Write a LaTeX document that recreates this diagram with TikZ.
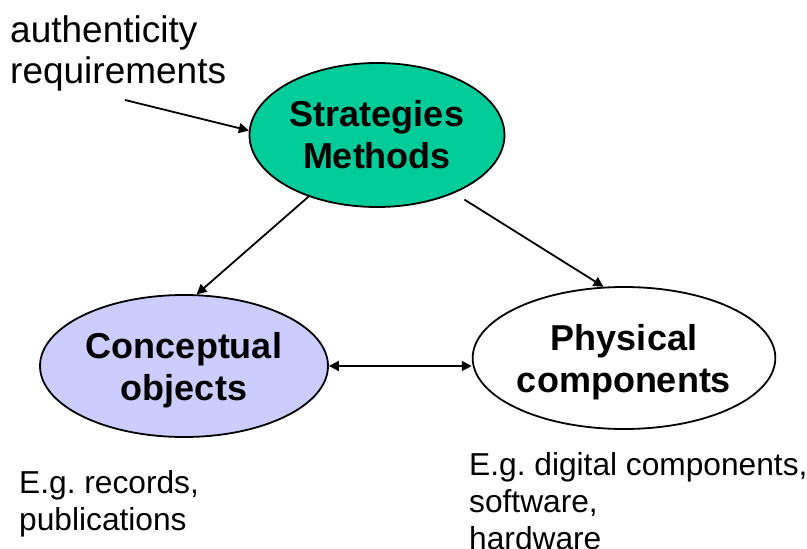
\documentclass[tikz,border=0pt]{standalone}
\usepackage{fontspec}
\setmainfont{Liberation Sans}
\frenchspacing
\usepackage{xcolor}
\definecolor{STRATCOLOR}{RGB}{0,204,153}
\definecolor{CONCEPTCOLOR}{RGB}{204,204,255}
\usetikzlibrary{shapes,arrows.meta,positioning}
\tikzset{
  ellipse-style/.style = {
    ellipse, draw, line width=1.8pt,
    fill=#1,
    minimum width=288pt,
    minimum height=142pt,
    inner sep=0pt, align=center,
    font=\fontsize{36}{42}\selectfont\bfseries
  },
  strat-style/.style = {
    ellipse-style=STRATCOLOR,
    minimum width=255pt,
    minimum height=144pt
  },
  concept-style/.style = {
    ellipse-style=CONCEPTCOLOR,
    text depth=0pt
  },
  phys-style/.style = {
    ellipse-style=white,
    text depth=0pt
  },
  note-style/.style = {
    anchor=north west, inner sep=0pt, align=left,
    font=\fontsize{31.7}{37}\selectfont
  },
  req-style/.style = {
    note-style,
    font=\fontsize{37}{41}\selectfont
  },
  every edge/.style = {draw, ->, >={Triangle[length=10pt,width=10pt]}, line width=1.8pt}
}

\begin{document}
\begin{tikzpicture}[x=1pt,y=-1pt]
    \useasboundingbox (0,0) rectangle (807,549);

    %%% ellipses
    \node[strat-style] (strat) at (377,135) {Strategies\\Methods};
    \node[concept-style] (concept) at (184,366) {Conceptual\\objects};
    \node[phys-style] (phys) at (624,358) {Physical\\components};

    %%% texts
    \node[req-style] (req) at (10,15) {authenticity\\requirements};
    \coordinate (reqEnd) at (125,100);
    \node[note-style] (conceptNote) at (19,470) {E.g. records,\\publications};
    \node[note-style] (physNote) at (469,452) {E.g. digital components,\\software,\\hardware};

    %%% arrows
    \path (reqEnd) edge (strat.178);
    \path (strat.222) edge (concept.80);
    \path (strat.323) edge[shorten <=12pt] (phys.106);
    \path (concept.east) edge[<->] (phys.west |- concept.east);
\end{tikzpicture}
\end{document}
